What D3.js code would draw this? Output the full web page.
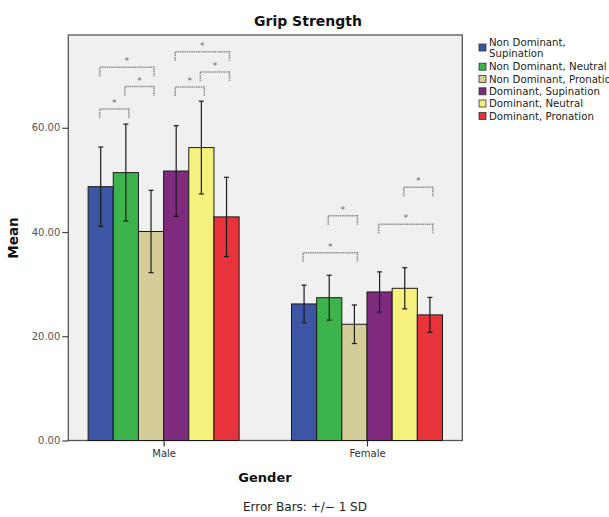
<!DOCTYPE html>
<html>
<head>
<meta charset="utf-8">
<script src="https://cdn.jsdelivr.net/npm/d3@7"></script>
<style>
  body { margin: 0; background: #fff; overflow: hidden; }
  text { font-family: "DejaVu Sans", sans-serif; }
</style>
</head>
<body>
<script>
// ---------- data ----------
const genders = ["Male", "Female"];
const conditions = ["Non Dominant, Supination", "Non Dominant, Neutral", "Non Dominant, Pronation",
                    "Dominant, Supination", "Dominant, Neutral", "Dominant, Pronation"];
const maleMeans   = [48.7, 51.4, 40.1, 51.7, 56.2, 42.9];
const maleSD      = [7.6, 9.3, 7.9, 8.7, 8.9, 7.6];
const femaleMeans = [26.2, 27.4, 22.3, 28.5, 29.2, 24.1];
const femaleSD    = [3.6, 4.3, 3.7, 3.85, 3.95, 3.35];
const yTicks = [0, 20, 40, 60];
// significance brackets: gender, first bar, last bar, height (Mean units)
const brackets = [
  ["Male", 0, 1, 63.6], ["Male", 1, 2, 67.9], ["Male", 0, 2, 71.6],
  ["Male", 3, 4, 67.8], ["Male", 4, 5, 70.7], ["Male", 3, 5, 74.6],
  ["Female", 0, 2, 36.0], ["Female", 1, 2, 43.1],
  ["Female", 3, 5, 41.5], ["Female", 4, 5, 48.6]
];

const colors = ["#3c55a5", "#3cb44b", "#d4cd98", "#7d2a7f", "#f6f07c", "#e8333b"];

// ---------- layout ----------
const width = 609, height = 517;
const plotLeft = 68.3, plotRight = 462.3, plotTop = 35, plotBottom = 440.5;

const svg = d3.select("body").append("svg")
    .attr("width", width)
    .attr("height", height);

const x = d3.scalePoint().domain(genders).range([plotLeft, plotRight]).padding(0.4686);
const xs = d3.scaleBand().domain(d3.range(conditions.length)).range([-75.5, 75.5]);
const y = d3.scaleLinear().domain([0, 77.8]).range([plotBottom, plotTop]);

// plot background / frame
svg.append("rect")
    .attr("x", plotLeft).attr("y", plotTop)
    .attr("width", plotRight - plotLeft).attr("height", plotBottom - plotTop)
    .attr("fill", "#f0f0f0")
    .attr("stroke", "#555").attr("stroke-width", 1.3);

// title
svg.append("text")
    .attr("x", 308).attr("y", 26)
    .attr("text-anchor", "middle")
    .style("font-size", "14px").style("font-weight", "bold").style("fill", "#111")
    .text("Grip Strength");

// y axis
const yAxis = svg.append("g")
    .attr("transform", "translate(" + plotLeft + ",0)")
    .call(d3.axisLeft(y).tickValues(yTicks).tickFormat(d3.format(".2f")).tickSize(6).tickPadding(2));
yAxis.select(".domain").remove();
yAxis.selectAll("line").attr("stroke", "#444").attr("stroke-width", 1.2);
yAxis.selectAll("text").style("font-size", "10px").style("fill", "#555").style("font-family", "DejaVu Sans");

svg.append("text")
    .attr("transform", "translate(18," + 238 + ") rotate(-90)")
    .attr("text-anchor", "middle")
    .style("font-size", "13.5px").style("font-weight", "bold").style("fill", "#111")
    .text("Mean");

// bars
const rows = genders.map(function(g, gi) {
    const means = gi === 0 ? maleMeans : femaleMeans;
    const sds = gi === 0 ? maleSD : femaleSD;
    return conditions.map(function(c, i) {
        return { gender: g, i: i, mean: means[i], sd: sds[i] };
    });
}).flat();

function barX(d) { return x(d.gender) + xs(d.i); }
function barMid(g, i) { return x(g) + xs(i) + xs.bandwidth() / 2; }

svg.append("g").selectAll("rect")
    .data(rows)
    .enter().append("rect")
    .attr("x", barX)
    .attr("y", function(d) { return y(d.mean); })
    .attr("width", xs.bandwidth())
    .attr("height", function(d) { return y(0) - y(d.mean); })
    .attr("fill", function(d) { return colors[d.i]; })
    .attr("stroke", "#1a1a1a").attr("stroke-width", 1);

// error bars
const err = svg.append("g").selectAll("g")
    .data(rows)
    .enter().append("g")
    .attr("stroke", "#1a1a1a").attr("stroke-width", 1.2);
err.append("line")
    .attr("x1", function(d) { return barMid(d.gender, d.i); })
    .attr("x2", function(d) { return barMid(d.gender, d.i); })
    .attr("y1", function(d) { return y(d.mean + d.sd); })
    .attr("y2", function(d) { return y(d.mean - d.sd); });
[1, -1].forEach(function(s) {
    err.append("line")
        .attr("x1", function(d) { return barMid(d.gender, d.i) - 2.5; })
        .attr("x2", function(d) { return barMid(d.gender, d.i) + 2.5; })
        .attr("y1", function(d) { return y(d.mean + s * d.sd); })
        .attr("y2", function(d) { return y(d.mean + s * d.sd); });
});

// significance brackets
const br = svg.append("g").selectAll("g")
    .data(brackets)
    .enter().append("g");
br.append("path")
    .attr("d", function(b) {
        const x1 = barMid(b[0], b[1]) - 1, x2 = barMid(b[0], b[2]) + 3, yy = y(b[3]);
        return "M" + x1 + "," + (yy + 9) + "V" + yy + "H" + x2 + "V" + (yy + 9);
    })
    .attr("fill", "none")
    .attr("stroke", "#8a8a8a").attr("stroke-width", 1.5)
    .attr("stroke-dasharray", "1.5,0.8");
br.append("text")
    .attr("x", function(b) { return (barMid(b[0], b[1]) + barMid(b[0], b[2])) / 2 + 1; })
    .attr("y", function(b) { return y(b[3]) - 3; })
    .attr("text-anchor", "middle")
    .style("font-size", "9px").style("fill", "#666")
    .text("*");

// x axis
const xAxis = svg.append("g")
    .attr("transform", "translate(0," + plotBottom + ")")
    .call(d3.axisBottom(x).tickSize(6).tickPadding(3));
xAxis.select(".domain").remove();
xAxis.selectAll("line").attr("stroke", "#333").attr("stroke-width", 1.2);
xAxis.selectAll("text").style("font-size", "10px").style("fill", "#333").style("font-family", "DejaVu Sans");

svg.append("text")
    .attr("x", 265).attr("y", 482)
    .attr("text-anchor", "middle")
    .style("font-size", "13px").style("font-weight", "bold").style("fill", "#111")
    .text("Gender");

svg.append("text")
    .attr("x", 243).attr("y", 511)
    .style("font-size", "12px").style("fill", "#222")
    .text("Error Bars: +/\u2212 1 SD");

// legend
const legendRows = [47.5, 66.7, 79, 91.3, 103.5, 116];
const legend = svg.append("g").selectAll("g")
    .data(conditions)
    .enter().append("g")
    .attr("transform", function(d, i) { return "translate(479," + legendRows[i] + ")"; });
legend.append("rect")
    .attr("x", 0).attr("y", -3.5).attr("width", 7).attr("height", 7)
    .attr("fill", function(d, i) { return colors[i]; })
    .attr("stroke", "#333").attr("stroke-width", 0.8);
legend.append("text")
    .attr("x", 10)
    .style("font-size", "10.2px").style("fill", "#222")
    .each(function(d, i) {
        const t = d3.select(this);
        if (i === 0) {
            t.append("tspan").attr("x", 10).attr("y", -1.6).text("Non Dominant,");
            t.append("tspan").attr("x", 10).attr("y", 9).text("Supination");
        } else {
            t.attr("y", 3.7).text(d);
        }
    });
</script>
</body>
</html>
